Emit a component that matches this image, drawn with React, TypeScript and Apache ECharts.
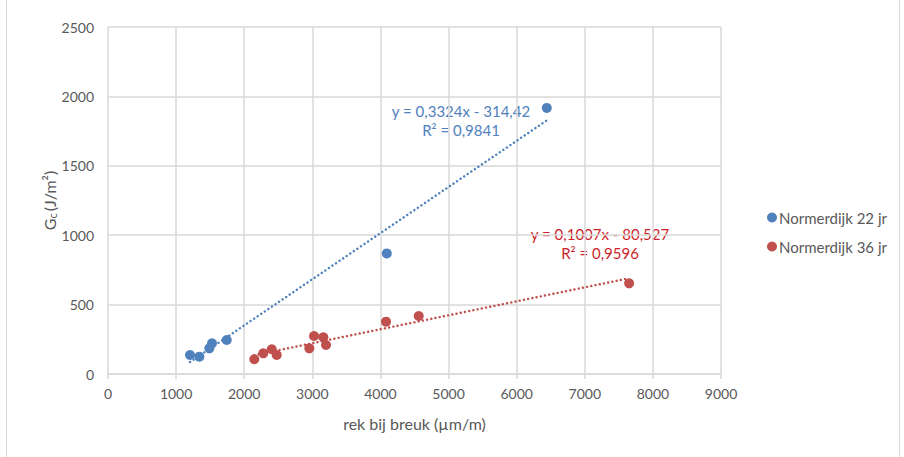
import React, { useEffect, useRef } from "react";
import * as echarts from "echarts";

// Normerdijk 22 jr  [rek bij breuk (µm/m), Gc (J/m²)]
const strain22 = [1204, 1341, 1488, 1527, 1743, 4093, 6442];
const gc22 = [137, 125, 185, 221, 245, 869, 1917];
// Normerdijk 36 jr
const strain36 = [2148, 2280, 2404, 2477, 2956, 3025, 3162, 3201, 4082, 4562, 7651];
const gc36 = [106, 149, 178, 137, 185, 274, 264, 209, 377, 418, 653];

// trendline coefficients (as printed on the chart)
const slope22 = 0.3324;
const icept22 = -314.42;
const r2_22 = "0,9841";
const slope36 = 0.1007;
const icept36 = -80.527;
const r2_36 = "0,9596";

const seriesNames = ["Normerdijk 22 jr", "Normerdijk 36 jr"];
const xTicks = { min: 0, max: 9000, interval: 1000 };
const yTicks = { min: 0, max: 2500, interval: 500 };

const BLUE = "#4F81BD";
const RED = "#C0504D";
const BLUE_TXT = "#4F81BD";
const RED_TXT = "#CC1F2A";
const GREY = "#595959";
const GRID = "#D9D9D9";
const FONT = "Lato, 'Open Sans', sans-serif";

function pairs(xs: number[], ys: number[]) {
  return xs.map((x, i) => [x, ys[i]]);
}
function trend(xs: number[], a: number, b: number) {
  const lo = Math.min(...xs);
  const hi = Math.max(...xs);
  return [
    [lo, a * lo + b],
    [hi, a * hi + b],
  ];
}
function fmt(n: number) {
  return String(n).replace(".", ",");
}
function eq(a: number, b: number) {
  return `y = ${fmt(a)}x - ${fmt(Math.abs(b))}`;
}

export default function App() {
  const ref = useRef<HTMLDivElement>(null);
  useEffect(() => {
    document.body.style.margin = "0";
    if (!ref.current) return;
    const chart = echarts.init(ref.current, undefined, { renderer: "svg" });
    const txt = (text: string, x: number, y: number, fill: string) => ({
      type: "text",
      x,
      y,
      style: { text, fill, font: `15px ${FONT}`, textAlign: "center", textVerticalAlign: "middle" },
    });
    chart.setOption({
      animation: false,
      backgroundColor: "#ffffff",
      textStyle: { fontFamily: FONT },
      grid: { left: 108, top: 27, width: 613, height: 347, containLabel: false },
      xAxis: {
        type: "value",
        ...xTicks,
        name: "rek bij breuk (µm/m)",
        nameLocation: "middle",
        nameGap: 41,
        nameMoveOverlap: false,
        nameTextStyle: { color: GREY, fontSize: 16, fontFamily: FONT },
        axisLine: { show: true, lineStyle: { color: GRID, width: 1.5 } },
        axisTick: { show: true, length: 5, lineStyle: { color: GRID, width: 1.5 } },
        axisLabel: { color: GREY, fontSize: 14, margin: 12, fontFamily: FONT, formatter: (v: number) => String(v) },
        splitLine: { show: true, lineStyle: { color: GRID, width: 1.5 } },
      },
      yAxis: {
        type: "value",
        ...yTicks,
        name: "{g|G}{s|c}{g|(J/m²)}",
        nameLocation: "middle",
        nameGap: 50,
        nameMoveOverlap: false,
        nameRotate: 90,
        nameTextStyle: {
          color: GREY,
          fontFamily: FONT,
          rich: {
            g: { fontSize: 16, color: GREY, fontFamily: FONT },
            s: { fontSize: 11, color: GREY, fontFamily: FONT, verticalAlign: "bottom", padding: [6, 2, 0, 0] },
          },
        },
        axisLine: { show: false },
        axisTick: { show: false },
        axisLabel: { color: GREY, fontSize: 14, margin: 14, fontFamily: FONT, formatter: (v: number) => String(v) },
        splitLine: { show: true, lineStyle: { color: GRID, width: 1.5 } },
      },
      legend: {
        orient: "vertical",
        left: 762,
        top: 205,
        itemGap: 14,
        itemWidth: 10,
        itemHeight: 10,
        icon: "circle",
        data: seriesNames,
        textStyle: { color: GREY, fontSize: 15, fontFamily: FONT, padding: [0, 0, 0, -3] },
      },
      series: [
        {
          name: "trend22",
          type: "line",
          data: trend(strain22, slope22, icept22),
          showSymbol: false,
          symbol: "none",
          lineStyle: { color: BLUE, width: 2.4, type: [0.1, 4.2], cap: "round" },
          z: 1,
          silent: true,
        },
        {
          name: "trend36",
          type: "line",
          data: trend(strain36, slope36, icept36),
          showSymbol: false,
          symbol: "none",
          lineStyle: { color: RED, width: 2.4, type: [0.1, 4.2], cap: "round" },
          z: 1,
          silent: true,
        },
        {
          name: seriesNames[0],
          type: "scatter",
          data: pairs(strain22, gc22),
          symbolSize: 10,
          itemStyle: { color: BLUE, opacity: 1 },
          z: 3,
        },
        {
          name: seriesNames[1],
          type: "scatter",
          data: pairs(strain36, gc36),
          symbolSize: 10,
          itemStyle: { color: RED, opacity: 1 },
          z: 3,
        },
      ],
      graphic: [
        { type: "line", shape: { x1: 6.5, y1: 0, x2: 6.5, y2: 457 }, style: { stroke: "#D9D9D9", lineWidth: 1 } },
        { type: "line", shape: { x1: 899.5, y1: 0, x2: 899.5, y2: 457 }, style: { stroke: "#D9D9D9", lineWidth: 1 } },
        txt(eq(slope22, icept22), 461, 111, BLUE_TXT),
        txt(`R² = ${r2_22}`, 461, 130, BLUE_TXT),
        txt(eq(slope36, icept36), 600, 234, RED_TXT),
        txt(`R² = ${r2_36}`, 600, 253, RED_TXT),
      ],
    });
    return () => chart.dispose();
  }, []);
  return <div ref={ref} style={{ width: 904, height: 457 }} />;
}
